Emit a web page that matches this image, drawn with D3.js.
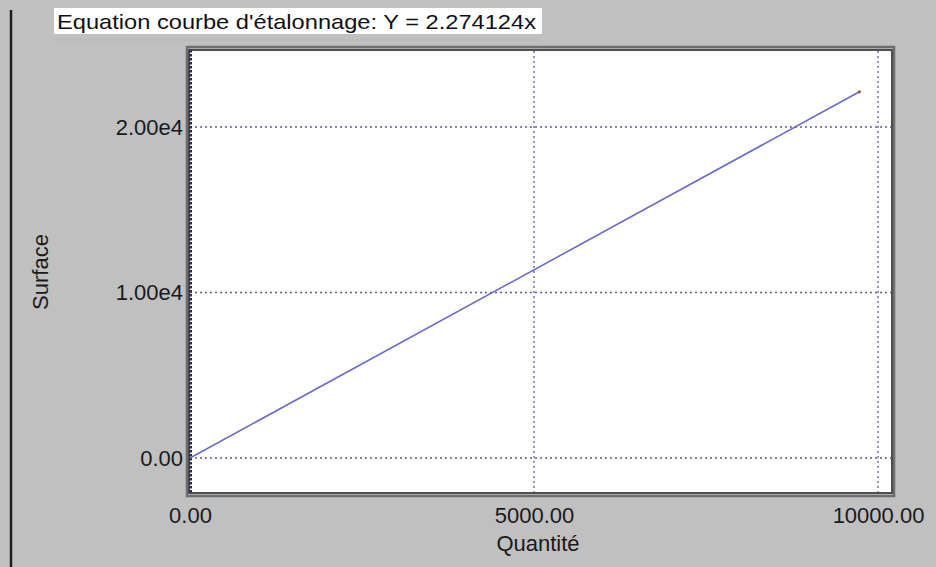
<!DOCTYPE html>
<html><head><meta charset="utf-8">
<script src="https://cdn.jsdelivr.net/npm/d3@7"></script>
<style>body{margin:0;background:#c0c0c0;}svg{display:block;font-family:Arial,"Liberation Sans",sans-serif;}</style>
</head><body><svg id="c" width="936" height="567"></svg>
<script>
const title = "Equation courbe d'étalonnage: Y = 2.274124x";
const slope = 2.274124;
const quantities = [0, 9730];
const surfaces = [0, 22127];
const xTicks = [0, 5000, 10000];
const yTicks = [0, 10000, 20000];
const xLabel = "Quantité";
const yLabel = "Surface";

const svg = d3.select("#c");
svg.append("rect").attr("width",936).attr("height",567).attr("fill","#c0c0c0");
svg.append("line").attr("x1",11).attr("x2",11).attr("y1",10).attr("y2",567).attr("stroke","#1e1e1e").attr("stroke-width",2.5);

const x = d3.scaleLinear().domain([0,10000]).range([190,878]);
const y = d3.scaleLinear().domain([0,20000]).range([458,127]);
const L = 189, R = 892, T = 50, B = 495;

// title
const tg = svg.append("g");
tg.append("rect").attr("x",54).attr("y",8).attr("width",488).attr("height",26).attr("fill","#fff");
tg.append("text").attr("x",57).attr("y",29).attr("font-size",21).attr("fill","#111")
  .attr("textLength",479).attr("lengthAdjust","spacingAndGlyphs").text(title);
svg.append("line").attr("x1",56).attr("x2",540).attr("y1",40).attr("y2",40)
  .attr("stroke","#adadad").attr("stroke-width",1).attr("stroke-dasharray","2,2");

// plot frame
svg.append("rect").attr("x",L-2).attr("y",T-3).attr("width",R-L+4).attr("height",B-T+4)
  .attr("fill","none").attr("stroke","#6e6e6e").attr("stroke-width",2.5);
svg.append("rect").attr("x",L).attr("y",T).attr("width",R-L).attr("height",B-T-2)
  .attr("fill","#fff").attr("stroke","#4e4e4e").attr("stroke-width",2);

// grid
const grid = svg.append("g").attr("stroke","#5c5c98").attr("stroke-width",1.3).attr("stroke-dasharray","2,3");
grid.selectAll("line.h").data(yTicks).join("line").attr("x1",L+1).attr("x2",R-1)
  .attr("y1",d=>y(d)).attr("y2",d=>y(d));
grid.selectAll("line.v").data(xTicks.slice(1)).join("line").attr("y1",T+1).attr("y2",B-3)
  .attr("x1",d=>x(d)).attr("x2",d=>x(d));

// y axis dotted spine
svg.append("line").attr("x1",190.5).attr("x2",190.5).attr("y1",T).attr("y2",B-2)
  .attr("stroke","#2e2e50").attr("stroke-width",3).attr("stroke-dasharray","2.5,1.5");

// axes labels
const xa = d3.axisBottom(x).tickValues(xTicks).tickFormat(d3.format(".2f")).tickSize(0).tickPadding(0);
svg.append("g").attr("transform",`translate(0,${B+12})`).call(xa)
  .call(g=>g.select(".domain").remove())
  .call(g=>g.selectAll("text").attr("font-size",22).attr("fill","#1a1a1a").attr("font-family","Arial,'Liberation Sans',sans-serif").attr("dy","0.71em"));
const ya = d3.axisLeft(y).tickValues(yTicks).tickFormat(d=>d===0?"0.00":d3.format(".2e")(d).replace("e+","e")).tickSize(0).tickPadding(0);
svg.append("g").attr("transform",`translate(183,0)`).call(ya)
  .call(g=>g.select(".domain").remove())
  .call(g=>g.selectAll("text").attr("font-size",22).attr("fill","#1a1a1a").attr("font-family","Arial,'Liberation Sans',sans-serif"));

svg.append("text").attr("x",538).attr("y",551).attr("text-anchor","middle").attr("font-size",22).attr("fill","#1a1a1a").text(xLabel);
svg.append("text").attr("transform","translate(48,272) rotate(-90)").attr("text-anchor","middle").attr("font-size",22).attr("fill","#1a1a1a").text(yLabel);

// series
const pts = quantities.map((q,i)=>[q,surfaces[i]]);
svg.append("path").datum(pts).attr("fill","none").attr("stroke","#6a6ac8").attr("stroke-width",1.6)
  .attr("d",d3.line().x(d=>x(d[0])).y(d=>y(d[1])));
svg.append("circle").attr("cx",x(quantities[1])).attr("cy",y(surfaces[1])).attr("r",1.6).attr("fill","#a05050");
</script></body></html>
